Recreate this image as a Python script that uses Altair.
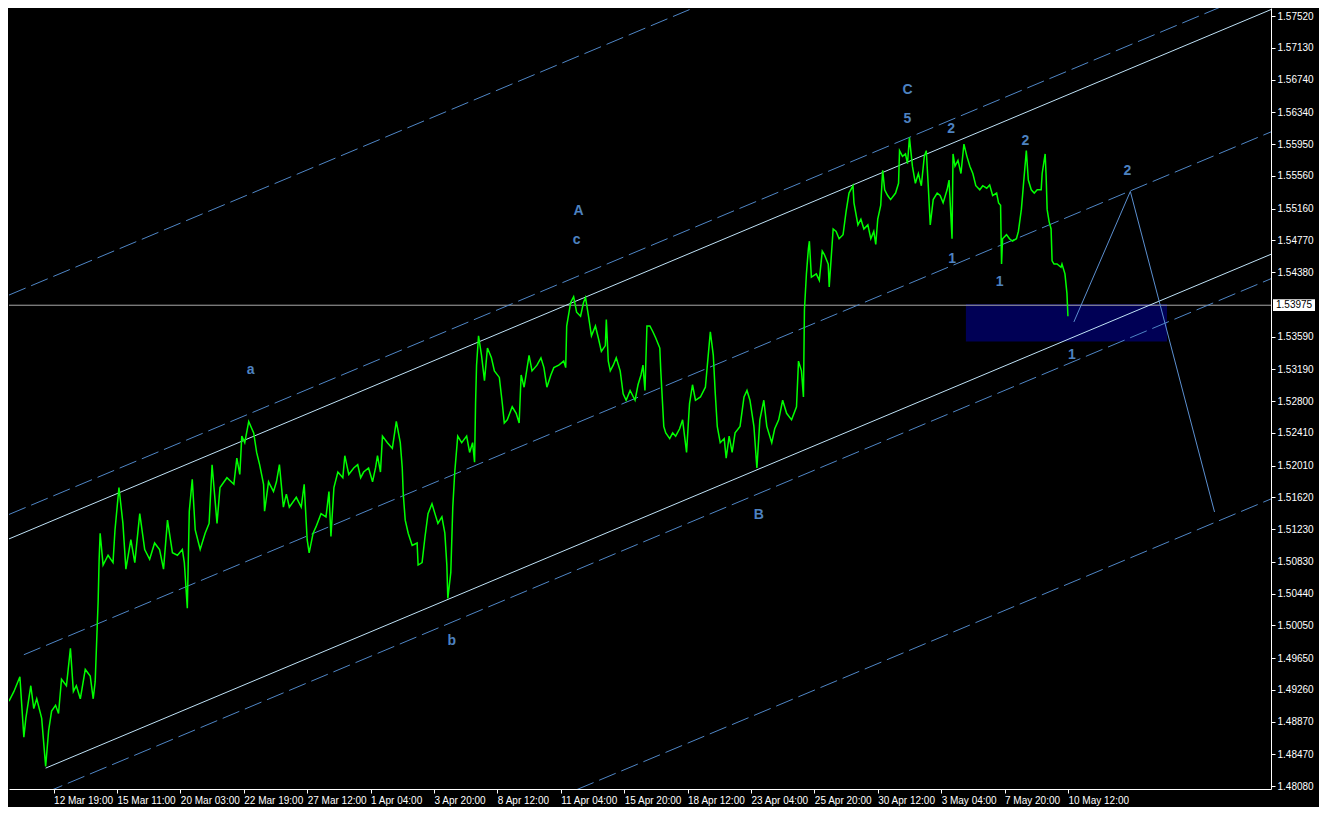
import altair as alt
import pandas as pd

# ---------------- data ----------------
# H1 closes: bar index (1 bar = 1 hour of trading, counted from left edge) and price
bar = [0, 5, 11, 15, 17, 22, 25, 28, 33, 37, 40, 43, 47, 50, 53, 58, 62, 65, 68, 72, 77, 82, 85, 87, 89, 90, 91, 92,
       95, 100, 105, 107, 111, 115, 118, 123, 127, 132, 137, 142, 147, 152, 156, 160, 165, 170, 175, 177, 180, 182,
       185, 188, 193, 198, 202, 205, 210, 213, 220, 227, 230, 233, 235, 238, 242, 247, 250, 253, 257, 258, 262, 267,
       270, 273, 277, 280, 283, 290, 295, 298, 301, 303, 307, 310, 315, 320, 323, 325, 328, 332, 337, 339, 343, 348,
       352, 355, 358, 363, 367, 370, 372, 375, 377, 382, 387, 391, 395, 397, 398, 400, 403, 407, 412, 413, 417, 420,
       423, 427, 430, 433, 437, 440, 442, 443, 446, 448, 450, 453, 457, 462, 465, 468, 470, 471, 472, 474, 477, 480,
       483, 487, 490, 495, 498, 500, 503, 508, 512, 515, 517, 520, 525, 528, 533, 537,
       540, 543, 547, 550, 555, 560, 562, 563, 567, 570, 573, 577, 580, 582, 585, 588, 592, 595, 598, 602, 603, 605,
       607, 610, 613, 617, 620, 623, 627, 632, 635, 638, 640, 642, 644, 647, 650, 653, 657, 658, 661, 663, 667, 670,
       673, 677, 680, 684, 687, 690, 693, 698, 703, 705, 708, 711, 713, 715, 718, 722, 724, 727, 730, 733, 738, 742,
       745, 748, 752, 755, 758, 762, 765, 770, 773, 777, 781, 785, 790, 795, 797, 800, 802, 803, 805, 807,
       808, 810, 815, 818, 821, 823, 827, 828, 832, 835, 838, 842, 845, 848, 852, 853, 857, 860, 863, 867, 870, 873,
       875, 877, 880, 882, 884, 887, 890, 895, 898, 899, 902, 905, 907, 909, 912, 915, 918, 921, 924, 926, 928, 930,
       933, 937, 940, 943, 947, 949, 952, 953, 955, 958, 961, 964, 967, 970, 973, 976, 980, 983, 987, 990, 993, 997,
       999, 1001, 1002, 1003, 1007, 1010, 1013, 1017, 1019, 1022, 1024, 1027, 1029, 1032, 1035, 1038, 1042, 1043,
       1046, 1047, 1048, 1050, 1052, 1053, 1055, 1058, 1062, 1063, 1066, 1068, 1069]
price = [1.4912, 1.4924, 1.4942, 1.4868, 1.4891, 1.4931, 1.4903, 1.4915, 1.4891, 1.4832, 1.4876, 1.4900, 1.4907,
         1.4897, 1.4939, 1.4931, 1.4977, 1.4924, 1.4931, 1.4915, 1.4951, 1.4943, 1.4915, 1.4936, 1.5002, 1.5035,
         1.5086, 1.5118, 1.5079, 1.5091, 1.5082, 1.5122, 1.5174, 1.5130, 1.5074, 1.5110, 1.5082, 1.5142, 1.5098,
         1.5086, 1.5106, 1.5098, 1.5074, 1.5134, 1.5094, 1.5091, 1.5098, 1.5082, 1.5026, 1.5145, 1.5184, 1.5122,
         1.5098, 1.5118, 1.5130, 1.5202, 1.5130, 1.5174, 1.5186, 1.5178, 1.5210, 1.5190, 1.5237, 1.5229, 1.5255,
         1.5241, 1.5217, 1.5202, 1.5178, 1.5145, 1.5181, 1.5169,
         1.5181, 1.5202, 1.5150, 1.5166, 1.5150, 1.5162, 1.5150, 1.5178, 1.5110, 1.5094, 1.5118, 1.5126, 1.5142,
         1.5138, 1.5169, 1.5114, 1.5174, 1.5193, 1.5186, 1.5213, 1.5190, 1.5198, 1.5202, 1.5186, 1.5193, 1.5198,
         1.5181, 1.5198, 1.5213, 1.5193, 1.5237, 1.5229, 1.5222, 1.5255, 1.5229, 1.5198, 1.5166, 1.5134, 1.5118,
         1.5103, 1.5106, 1.5079, 1.5082, 1.5114, 1.5142, 1.5154, 1.5142, 1.5130, 1.5138, 1.5118, 1.5079, 1.5038,
         1.5070, 1.5150, 1.5193, 1.5237, 1.5229, 1.5237, 1.5217, 1.5229, 1.5205, 1.5277, 1.5324, 1.5360, 1.5336,
         1.5305, 1.5345, 1.5333, 1.5317, 1.5309, 1.5277, 1.5253, 1.5257, 1.5273, 1.5265, 1.5253, 1.5312, 1.5297,
         1.5336, 1.5317, 1.5324, 1.5333,
         1.5321, 1.5297, 1.5312, 1.5321, 1.5324, 1.5329, 1.5321, 1.5372, 1.5401, 1.5408, 1.5389, 1.5384, 1.5401,
         1.5407, 1.5384, 1.5360, 1.5372, 1.5357, 1.5341, 1.5348, 1.5380, 1.5329, 1.5317, 1.5324, 1.5333, 1.5317,
         1.5289, 1.5281, 1.5293, 1.5281, 1.5300, 1.5312, 1.5324, 1.5293, 1.5372, 1.5372, 1.5365, 1.5357, 1.5345,
         1.5317, 1.5249, 1.5241, 1.5234, 1.5241, 1.5237, 1.5246, 1.5257, 1.5217, 1.5277, 1.5300, 1.5281, 1.5285,
         1.5297, 1.5324, 1.5365, 1.5336, 1.5289, 1.5249, 1.5229, 1.5234, 1.5210, 1.5237, 1.5217, 1.5241, 1.5249,
         1.5285, 1.5293, 1.5281, 1.5249, 1.5198, 1.5257, 1.5281, 1.5249, 1.5229, 1.5246, 1.5257, 1.5281, 1.5265,
         1.5257, 1.5273, 1.5329, 1.5317, 1.5285, 1.5392, 1.5436, 1.5467,
         1.5476, 1.5432, 1.5436, 1.5428, 1.5464, 1.5460, 1.5448, 1.5420, 1.5491, 1.5488, 1.5479, 1.5484, 1.5512,
         1.5535, 1.5544, 1.5523, 1.5496, 1.5503, 1.5491, 1.5496, 1.5479, 1.5488, 1.5472, 1.5503, 1.5520, 1.5563,
         1.5539, 1.5532, 1.5527, 1.5535, 1.5547, 1.5587, 1.5580, 1.5583, 1.5571, 1.5603, 1.5568, 1.5547, 1.5559,
         1.5544, 1.5580, 1.5587, 1.5544, 1.5496, 1.5527, 1.5535, 1.5532, 1.5523, 1.5539, 1.5551, 1.5479, 1.5583,
         1.5568, 1.5575, 1.5559, 1.5595, 1.5580, 1.5568, 1.5559, 1.5544, 1.5539, 1.5544, 1.5541, 1.5545, 1.5532,
         1.5535, 1.5523, 1.5520, 1.5448, 1.5479, 1.5484, 1.5479, 1.5476, 1.5479, 1.5488, 1.5515, 1.5544, 1.5587,
         1.5551, 1.5539, 1.5535, 1.5539, 1.5539, 1.5559, 1.5583, 1.5556, 1.5515, 1.5500, 1.5491, 1.5452, 1.5448,
         1.5448, 1.5444, 1.5448, 1.5436, 1.5412, 1.5384]

# channel lines: anchor bars / prices
line_names = ["top_dash", "upper_dash", "upper", "median", "lower", "lower_dash", "bottom_dash"]
line_style = ["dash", "dash", "solid", "dash", "solid", "dash", "dash"]
line_bar1 = [0, 0, 0, 15, 37, 37, 37]
line_p1 = [1.5410, 1.5141, 1.5111, 1.4969, 1.4830, 1.4800, 1.4531]
line_bar2 = [1274, 1274, 1274, 1274, 1274, 1274, 1274]
line_p2 = [1.6059, 1.5789, 1.5760, 1.5610, 1.5460, 1.5430, 1.5160]

# forecast zig-zag
fc_bar = [1075, 1132, 1217]
fc_price = [1.5377, 1.5537, 1.5144]

# support zone
zone_bar = [966, 1169]
zone_price = [1.5353, 1.5399]

current_price = 1.53975

# wave labels
lab_text = ["C", "5", "2", "2", "2", "A", "c", "a", "1", "1", "1", "B", "b"]
lab_bar = [907, 907, 951, 1026, 1129, 575, 573, 244, 952, 1000, 1073, 757, 447]
lab_price = [1.5661, 1.5626, 1.5613, 1.5599, 1.5562, 1.5513, 1.5477, 1.5318, 1.5454, 1.5426, 1.5336, 1.5140, 1.4986]

# axes
xtick_bars = [45, 109, 173, 237, 301, 365, 429, 493, 557, 621, 685, 749, 813, 877, 941, 1005, 1069]
xtick_labels = ["12 Mar 19:00", "15 Mar 11:00", "20 Mar 03:00", "22 Mar 19:00", "27 Mar 12:00", "1 Apr 04:00",
                "3 Apr 20:00", "8 Apr 12:00", "11 Apr 04:00", "15 Apr 20:00", "18 Apr 12:00", "23 Apr 04:00",
                "25 Apr 20:00", "30 Apr 12:00", "3 May 04:00", "7 May 20:00", "10 May 12:00"]
ytick_values = [1.57520, 1.57130, 1.56740, 1.56340, 1.55950, 1.55560, 1.55160, 1.54770, 1.54380, 1.53590,
                1.53190, 1.52800, 1.52410, 1.52010, 1.51620, 1.51230, 1.50830, 1.50440, 1.50050, 1.49650,
                1.49260, 1.48870, 1.48470, 1.48080]

X_DOMAIN = [0, 1274]
Y_DOMAIN = [1.48044, 1.57619]

# ---------------- chart ----------------
W, H = 1262, 781
FONT = "Liberation Sans"

label_expr = "[" + ",".join("'%s'" % s for s in xtick_labels) + "][indexof([" + \
    ",".join(str(v) for v in xtick_bars) + "], datum.value)]"

xscale = alt.Scale(domain=X_DOMAIN, nice=False, zero=False)
yscale = alt.Scale(domain=Y_DOMAIN, nice=False, zero=False)
xaxis = alt.Axis(values=xtick_bars, labelExpr=label_expr, orient="bottom", labelAlign="left",
                 labelColor="white", tickColor="white", domainColor="white", tickSize=4,
                 labelFont=FONT, labelFontSize=10, labelPadding=2, grid=False, title=None,
                 labelOverlap=False)
yaxis = alt.Axis(values=ytick_values, format=".5f", orient="right", labelAlign="left",
                 labelBaseline="middle", labelColor="white", tickColor="white", domainColor="white",
                 tickSize=4, labelFont=FONT, labelFontSize=10, labelPadding=2, grid=False, title=None,
                 labelOverlap=False)


def X(f):
    return alt.X(f + ":Q", scale=xscale, axis=xaxis)


def Y(f):
    return alt.Y(f + ":Q", scale=yscale, axis=yaxis)


price_df = pd.DataFrame({"bar": bar, "price": price})

rows = []
for n, s, b1, p1, b2, p2 in zip(line_names, line_style, line_bar1, line_p1, line_bar2, line_p2):
    rows.append({"name": n, "style": s, "bar": b1, "price": p1})
    rows.append({"name": n, "style": s, "bar": b2, "price": p2})
lines_df = pd.DataFrame(rows)

fc_df = pd.DataFrame({"bar": fc_bar, "price": fc_price})
zone_df = pd.DataFrame({"bar": [zone_bar[0]], "bar2": [zone_bar[1]],
                        "price": [zone_price[0]], "price2": [zone_price[1]]})
cur_df = pd.DataFrame({"price": [current_price], "txt": ["%.5f" % current_price]})
lab_df = pd.DataFrame({"bar": lab_bar, "price": lab_price, "txt": lab_text})

zone = alt.Chart(zone_df).mark_rect(color="#000055", clip=True).encode(
    x=X("bar"), x2="bar2", y=Y("price"), y2="price2")

hline = alt.Chart(cur_df).mark_rule(color="#a8a8a8", strokeWidth=1).encode(y=Y("price"))

solid = alt.Chart(lines_df).transform_filter(alt.datum.style == "solid").mark_line(
    color="#bfe2f7", strokeWidth=1, clip=True).encode(x=X("bar"), y=Y("price"), detail="name:N")

dashed = alt.Chart(lines_df).transform_filter(alt.datum.style == "dash").mark_line(
    color="#4f86c6", strokeWidth=1, strokeDash=[18, 6], clip=True).encode(
    x=X("bar"), y=Y("price"), detail="name:N")

forecast = alt.Chart(fc_df).mark_line(color="#5b8fd0", strokeWidth=1, clip=True).encode(
    x=X("bar"), y=Y("price"))

series = alt.Chart(price_df).mark_line(color="#00ff00", strokeWidth=1.5, clip=True).encode(
    x=X("bar"), y=Y("price"))

labels = alt.Chart(lab_df).mark_text(font=FONT, fontSize=14, fontWeight="bold", color="#4d82c0",
                                     align="center", baseline="middle").encode(
    x=X("bar"), y=Y("price"), text="txt:N")

box = alt.Chart(cur_df).mark_point(
    shape="M-1,-0.28L1,-0.28L1,0.28L-1,0.28Z", size=1764, filled=True, color="white", opacity=1,
    strokeWidth=0).encode(x=alt.value(W + 23), y=Y("price"))

box_txt = alt.Chart(cur_df).mark_text(font=FONT, fontSize=10, color="black", align="left",
                                      baseline="middle").encode(x=alt.value(W + 5), y=Y("price"),
                                                                text="txt:N")

chart = alt.layer(zone, hline, dashed, solid, forecast, series, labels, box, box_txt).properties(
    width=W, height=H, background="black",
    padding={"left": 0, "top": 0, "right": 4, "bottom": 2}
).configure_view(stroke=None)

chart.save("out.html", embed_options={"renderer": "svg", "actions": False})
